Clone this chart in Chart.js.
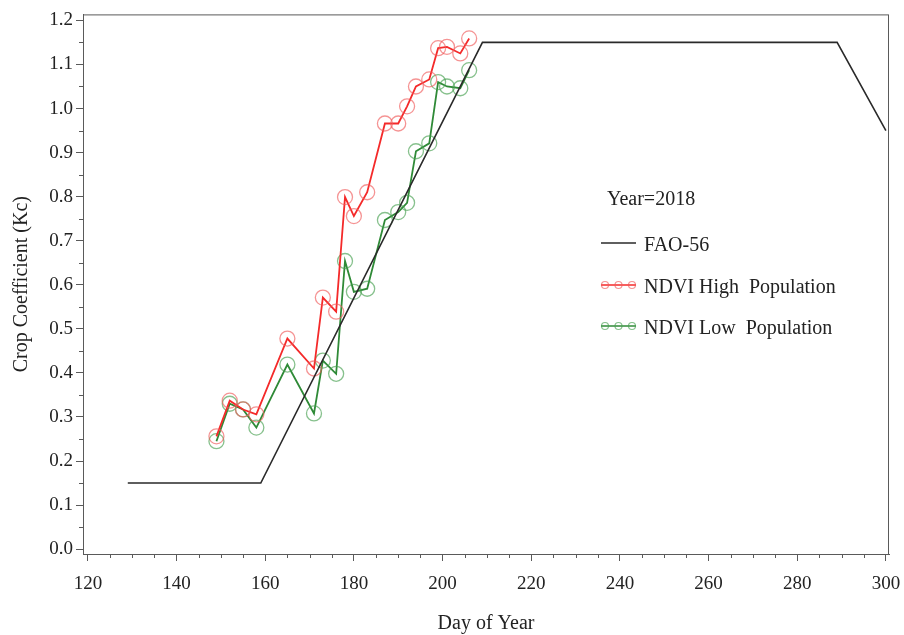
<!DOCTYPE html>
<html lang="en">
<head>
<meta charset="UTF-8">
<title>Crop Coefficient 2018</title>
<script src="https://cdn.jsdelivr.net/npm/chart.js"></script>
<style>
    body { margin: 0; background: #fff; }
    #wrap { width: 904px; height: 635px; }
</style>
</head>
<body>
<div id="wrap"><canvas id="kcChart" width="904" height="635"></canvas></div>
<script>
// FAO-56 curve
const faoDays = [129, 159, 209, 289, 300];
const faoKc   = [0.15, 0.15, 1.15, 1.15, 0.95];

// NDVI based Kc
const ndviDays = [149, 152, 155, 158, 165, 171, 173, 176, 178, 180, 183, 187, 190, 192, 194, 197, 199, 201, 204, 206];
const highPop  = [0.256, 0.337, 0.317, 0.306, 0.478, 0.41, 0.571, 0.539, 0.799, 0.756, 0.81, 0.966, 0.966, 1.005, 1.05, 1.066, 1.137, 1.14, 1.125, 1.159];
const lowPop   = [0.245, 0.33, 0.317, 0.276, 0.419, 0.308, 0.428, 0.398, 0.654, 0.584, 0.591, 0.747, 0.765, 0.786, 0.903, 0.921, 1.06, 1.05, 1.046, 1.087];

const xTicks = [120, 140, 160, 180, 200, 220, 240, 260, 280, 300];
const yTicks = [0.0, 0.1, 0.2, 0.3, 0.4, 0.5, 0.6, 0.7, 0.8, 0.9, 1.0, 1.1, 1.2];

const FONT = "'Liberation Serif', 'Times New Roman', serif";
const AXIS = '#5a5a5a';
const RED = '#f42a2a', RED_PT = 'rgba(240,90,90,0.65)';
const GREEN = '#2f8a37', GREEN_PT = 'rgba(70,160,80,0.65)';

const pts = (xs, ys) => xs.map((d, i) => ({ x: d, y: ys[i] }));

const extras = {
    id: 'extras',
    afterDraw(chart) {
        const { ctx, chartArea: a, scales: { x, y } } = chart;
        ctx.save();
        ctx.strokeStyle = AXIS;
        ctx.lineWidth = 1;
        ctx.strokeRect(a.left + 0.5, a.top + 0.5, a.right - a.left - 1, a.bottom - a.top);

        // minor ticks
        ctx.beginPath();
        for (let v = xTicks[0]; v < xTicks[xTicks.length - 1]; v += 5) {
            if (v % 20 === 0) continue;
            const px = Math.round(x.getPixelForValue(v)) + 0.5;
            ctx.moveTo(px, a.bottom); ctx.lineTo(px, a.bottom + 4);
        }
        for (let i = 0; i < yTicks.length - 1; i++) {
            const py = Math.round(y.getPixelForValue((yTicks[i] + yTicks[i + 1]) / 2)) + 0.5;
            ctx.moveTo(a.left, py); ctx.lineTo(a.left - 4, py);
        }
        ctx.stroke();

        // legend inside the plot
        const lx = 601, tx = 644;
        ctx.fillStyle = '#222';
        ctx.font = '20px ' + FONT;
        ctx.textBaseline = 'middle';
        ctx.fillText('Year=2018', 607, 200);

        const ds = chart.data.datasets;
        const rows = [243, 285, 326];
        ds.forEach((d, i) => {
            const ry = rows[i];
            ctx.strokeStyle = d.borderColor;
            ctx.lineWidth = 1.6;
            ctx.beginPath(); ctx.moveTo(lx, ry); ctx.lineTo(lx + 35, ry); ctx.stroke();
            if (d.pointRadius > 0) {
                ctx.strokeStyle = d.pointBorderColor;
                ctx.lineWidth = 1.2;
                [lx + 4, lx + 17.5, lx + 31].forEach(cx => {
                    ctx.beginPath(); ctx.arc(cx, ry, 3.5, 0, Math.PI * 2); ctx.stroke();
                });
            }
            ctx.fillStyle = '#222';
            ctx.fillText(d.label, tx, ry + 3);
        });
        ctx.restore();
    }
};

new Chart(document.getElementById('kcChart'), {
    type: 'line',
    data: {
        datasets: [
            {
                label: 'FAO-56',
                data: pts(faoDays, faoKc),
                borderColor: '#2a2a2a',
                borderWidth: 1.6,
                pointRadius: 0,
                tension: 0
            },
            {
                label: 'NDVI High  Population',
                data: pts(ndviDays, highPop),
                borderColor: RED,
                borderWidth: 1.8,
                pointRadius: 7.5,
                pointBorderColor: RED_PT,
                pointBackgroundColor: 'rgba(0,0,0,0)',
                pointBorderWidth: 1.3,
                tension: 0
            },
            {
                label: 'NDVI Low  Population',
                data: pts(ndviDays, lowPop),
                borderColor: GREEN,
                borderWidth: 1.8,
                pointRadius: 7.5,
                pointBorderColor: GREEN_PT,
                pointBackgroundColor: 'rgba(0,0,0,0)',
                pointBorderWidth: 1.3,
                tension: 0
            }
        ]
    },
    options: {
        responsive: false,
        animation: false,
        layout: { padding: { top: 13, right: 15, left: 0, bottom: 0 } },
        plugins: { legend: { display: false }, tooltip: { enabled: false } },
        scales: {
            x: {
                type: 'linear',
                min: 118.9,
                max: 300.7,
                afterBuildTicks: s => { s.ticks = xTicks.map(v => ({ value: v })); },
                afterFit: s => { s.height = 81; s.paddingLeft = 0; s.paddingRight = 0; },
                grid: { drawOnChartArea: false, tickLength: 7, tickColor: AXIS },
                border: { color: AXIS },
                ticks: { color: '#222', font: { family: FONT, size: 19 }, padding: 12, maxRotation: 0 },
                title: { display: true, text: 'Day of Year', color: '#222', font: { family: FONT, size: 20, lineHeight: 1 }, padding: { bottom: 1, top: 0 } }
            },
            y: {
                min: -0.011,
                max: 1.2136,
                afterBuildTicks: s => { s.ticks = yTicks.map(v => ({ value: v })); },
                afterFit: s => { s.width = 83; },
                grid: { drawOnChartArea: false, tickLength: 7, tickColor: AXIS },
                border: { color: AXIS },
                ticks: { color: '#222', font: { family: FONT, size: 19 }, padding: 3, callback: v => v.toFixed(1) },
                title: { display: true, text: 'Crop Coefficient (Kc)', color: '#222', font: { family: FONT, size: 20, lineHeight: 1 }, padding: { top: 12, bottom: 0 } }
            }
        }
    },
    plugins: [extras]
});
</script>
</body>
</html>
